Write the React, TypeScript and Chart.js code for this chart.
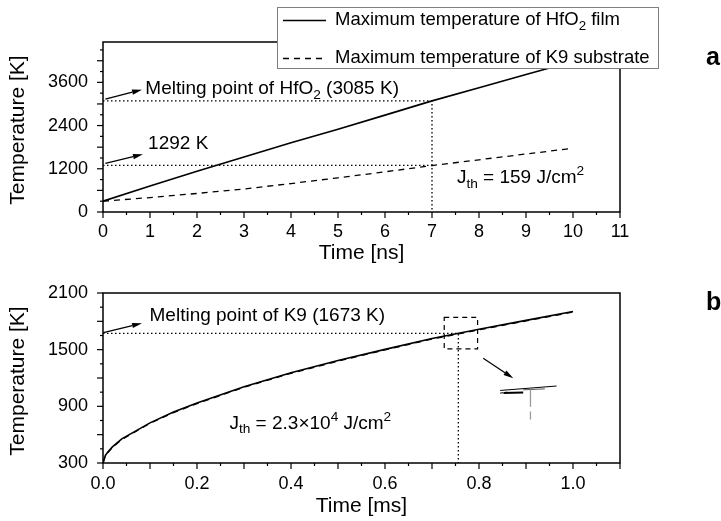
import { useEffect, useRef } from 'react';
import { Chart, registerables } from 'chart.js';

Chart.register(...registerables);

const FONT = "'Liberation Sans', Arial, Helvetica, sans-serif";

// ---------- Panel a (time in ns) ----------
const TIME_NS = [0, 1, 2, 3, 4, 5, 6, 7, 8, 9, 10];
const FILM_TEMP_A = [300, 720, 1130, 1530, 1920, 2300, 2690, 3085, 3450, 3815, 4180];
const SUBSTRATE_TEMP_A = [300, 400, 515, 640, 790, 950, 1115, 1290, 1450, 1610, 1770];
const A_X_TICKS = [0, 1, 2, 3, 4, 5, 6, 7, 8, 9, 10, 11];
const A_Y_TICKS = [0, 1200, 2400, 3600];
const A_X_MIN = 0;
const A_X_MAX = 11;
const A_Y_MIN = 0;
const A_Y_MAX = 4720;
const HFO2_MELT_K = 3085;
const HFO2_MELT_TIME_NS = 7;
const SUBSTRATE_AT_MELT_K = 1292;
const J_TH_A = '159';

// ---------- Panel b (time in ms) ----------
const TIME_MS = [0, 0.005, 0.01, 0.02, 0.04, 0.07, 0.1, 0.15, 0.2, 0.3, 0.4, 0.5, 0.6, 0.7, 0.8, 0.9, 1.0];
const FILM_TEMP_B = [300, 380, 415, 470, 555, 640, 725, 840, 935, 1108, 1256, 1385, 1503, 1618, 1716, 1810, 1904];
const SUBSTRATE_TEMP_B = [300, 374, 409, 464, 549, 634, 719, 834, 929, 1102, 1250, 1379, 1497, 1612, 1710, 1804, 1898];
const B_X_TICKS = [0, 0.2, 0.4, 0.6, 0.8, 1.0];
const B_Y_TICKS = [300, 900, 1500, 2100];
const B_X_MIN = 0;
const B_X_MAX = 1.1;
const B_Y_MIN = 300;
const B_Y_MAX = 2100;
const K9_MELT_K = 1673;
const K9_MELT_TIME_MS = 0.756;

const LEGEND_FILM = 'Maximum temperature of HfO';
const LEGEND_SUBSTRATE = 'Maximum temperature of K9 substrate';

const TICK_SIZE = 18;
const NOTE_SIZE = 19;
const LEGEND_SIZE = 18.5;
const TITLE_SIZE = 21;

type Part = { t: string; s?: 'sub' | 'sup' };

function drawRich(ctx: CanvasRenderingContext2D, parts: Part[], x: number, y: number, size: number) {
  ctx.save();
  ctx.textBaseline = 'middle';
  ctx.textAlign = 'left';
  ctx.fillStyle = '#000';
  let cx = x;
  for (const p of parts) {
    const fs = p.s ? size * 0.72 : size;
    ctx.font = `${fs}px ${FONT}`;
    const dy = p.s === 'sub' ? size * 0.32 : p.s === 'sup' ? -size * 0.35 : 0;
    ctx.fillText(p.t, cx, y + dy);
    cx += ctx.measureText(p.t).width;
  }
  ctx.restore();
}

function line(ctx: CanvasRenderingContext2D, x1: number, y1: number, x2: number, y2: number) {
  ctx.beginPath();
  ctx.moveTo(x1, y1);
  ctx.lineTo(x2, y2);
  ctx.stroke();
}

function arrow(ctx: CanvasRenderingContext2D, x1: number, y1: number, x2: number, y2: number) {
  const head = 10;
  const w = 2.6;
  const ang = Math.atan2(y2 - y1, x2 - x1);
  const bx = x2 - head * Math.cos(ang);
  const by = y2 - head * Math.sin(ang);
  ctx.save();
  ctx.strokeStyle = '#000';
  ctx.fillStyle = '#000';
  ctx.lineWidth = 1.3;
  line(ctx, x1, y1, bx, by);
  ctx.beginPath();
  ctx.moveTo(x2, y2);
  ctx.lineTo(bx + w * Math.sin(ang), by - w * Math.cos(ang));
  ctx.lineTo(bx - w * Math.sin(ang), by + w * Math.cos(ang));
  ctx.closePath();
  ctx.fill();
  ctx.restore();
}

function drawFrameAndTicks(ctx: CanvasRenderingContext2D, a: any, xs: any, ys: any, xStep: number, yStep: number) {
  ctx.save();
  ctx.strokeStyle = '#000';
  ctx.lineWidth = 1.2;
  const nx = Math.floor((xs.max - xs.min) / xStep + 1e-6);
  for (let i = 0; i <= nx; i++) {
    const px = xs.getPixelForValue(xs.min + i * xStep);
    line(ctx, px, a.bottom, px, a.bottom + (i % 2 === 0 ? 6 : 3));
  }
  const ny = Math.floor((ys.max - ys.min) / yStep + 1e-6);
  for (let i = 0; i <= ny; i++) {
    const py = ys.getPixelForValue(ys.min + i * yStep);
    line(ctx, a.left, py, a.left - (i % 2 === 0 ? 6 : 3), py);
  }
  ctx.lineWidth = 1.5;
  ctx.strokeRect(a.left, a.top, a.right - a.left, a.bottom - a.top);
  ctx.restore();
}

function drawTitles(ctx: CanvasRenderingContext2D, a: any, xTitle: string, xTitleY: number, yTitle: string) {
  ctx.save();
  ctx.fillStyle = '#000';
  ctx.font = `${TITLE_SIZE}px ${FONT}`;
  ctx.textAlign = 'center';
  ctx.textBaseline = 'middle';
  ctx.fillText(xTitle, (a.left + a.right) / 2, xTitleY);
  ctx.translate(18.5, (a.top + a.bottom) / 2 + 3);
  ctx.rotate(-Math.PI / 2);
  ctx.fillText(yTitle, 0, 0);
  ctx.restore();
}

function panelLabel(ctx: CanvasRenderingContext2D, text: string, x: number, y: number) {
  ctx.save();
  ctx.fillStyle = '#000';
  ctx.font = `bold 25px ${FONT}`;
  ctx.textAlign = 'left';
  ctx.textBaseline = 'alphabetic';
  ctx.fillText(text, x, y);
  ctx.restore();
}

function lineDataset(xs: number[], ys: number[], extra: any = {}) {
  return {
    data: xs.map((x, i) => ({ x, y: ys[i] })),
    borderColor: '#000',
    borderWidth: 1.5,
    pointRadius: 0,
    fill: false,
    tension: 0,
    ...extra,
  };
}

function options(
  xMin: number, xMax: number, yMin: number, yMax: number,
  xTicks: number[], yTicks: number[], xFmt: (v: number) => string,
  padTop: number, xHeight: number, xPad: number,
) {
  return {
    animation: false,
    responsive: false,
    maintainAspectRatio: false,
    layout: { padding: { top: padTop, right: 101, left: 0, bottom: 0 } },
    plugins: { legend: { display: false }, tooltip: { enabled: false } },
    scales: {
      x: {
        type: 'linear',
        min: xMin,
        max: xMax,
        grid: { display: false, drawTicks: false },
        border: { display: false },
        afterBuildTicks: (s: any) => { s.ticks = xTicks.map((v) => ({ value: v })); },
        afterFit: (s: any) => { s.height = xHeight; },
        ticks: {
          font: { family: FONT, size: TICK_SIZE },
          color: '#000',
          padding: xPad,
          maxRotation: 0,
          autoSkip: false,
          callback: (v: any) => xFmt(Number(v)),
        },
      },
      y: {
        type: 'linear',
        min: yMin,
        max: yMax,
        grid: { display: false, drawTicks: false },
        border: { display: false },
        afterBuildTicks: (s: any) => { s.ticks = yTicks.map((v) => ({ value: v })); },
        afterFit: (s: any) => { s.width = 103; },
        ticks: {
          font: { family: FONT, size: TICK_SIZE },
          color: '#000',
          padding: 15,
          autoSkip: false,
          callback: (v: any) => String(v),
        },
      },
    },
  };
}

export default function App() {
  const refA = useRef<HTMLCanvasElement>(null);
  const refB = useRef<HTMLCanvasElement>(null);

  useEffect(() => {
    const dotted = [1.5, 2.5];

    const decorA = {
      id: 'decorA',
      afterDatasetsDraw(chart: any) {
        const { ctx, chartArea: a } = chart;
        const x = chart.scales.x;
        const y = chart.scales.y;
        drawFrameAndTicks(ctx, a, x, y, 0.5, 300);
        arrow(ctx, x.getPixelForValue(0.05), y.getPixelForValue(3137), x.getPixelForValue(0.83), y.getPixelForValue(3397));
        arrow(ctx, x.getPixelForValue(0.05), y.getPixelForValue(1351), x.getPixelForValue(0.85), y.getPixelForValue(1602));
        drawRich(ctx, [{ t: 'Melting point of HfO' }, { t: '2', s: 'sub' }, { t: ` (${HFO2_MELT_K} K)` }],
          x.getPixelForValue(0.9), y.getPixelForValue(3424), NOTE_SIZE);
        drawRich(ctx, [{ t: `${SUBSTRATE_AT_MELT_K} K` }], x.getPixelForValue(0.96), y.getPixelForValue(1890), NOTE_SIZE);
        drawRich(ctx, [{ t: 'J' }, { t: 'th', s: 'sub' }, { t: ` = ${J_TH_A} J/cm` }, { t: '2', s: 'sup' }],
          x.getPixelForValue(7.53), y.getPixelForValue(940), NOTE_SIZE);
        drawTitles(ctx, a, 'Time [ns]', 253, 'Temperature [K]');

        // legend box
        ctx.save();
        ctx.fillStyle = '#fff';
        ctx.fillRect(277, 7, 381, 61);
        ctx.strokeStyle = '#808080';
        ctx.lineWidth = 1;
        ctx.strokeRect(277.5, 7.5, 381, 61);
        ctx.strokeStyle = '#000';
        ctx.lineWidth = 1.4;
        line(ctx, 283, 20.5, 326, 20.5);
        ctx.setLineDash([6, 5]);
        line(ctx, 283, 58.5, 326, 58.5);
        ctx.restore();
        drawRich(ctx, [{ t: LEGEND_FILM }, { t: '2', s: 'sub' }, { t: ' film' }], 335, 20, LEGEND_SIZE);
        drawRich(ctx, [{ t: LEGEND_SUBSTRATE }], 335, 58, LEGEND_SIZE);
        panelLabel(ctx, 'a', 706, 65);
      },
    };

    const decorB = {
      id: 'decorB',
      afterDatasetsDraw(chart: any) {
        const { ctx, chartArea: a } = chart;
        const x = chart.scales.x;
        const y = chart.scales.y;
        drawFrameAndTicks(ctx, a, x, y, 0.05, 150);
        arrow(ctx, x.getPixelForValue(0.001), y.getPixelForValue(1681), x.getPixelForValue(0.083), y.getPixelForValue(1781));
        drawRich(ctx, [{ t: `Melting point of K9 (${K9_MELT_K} K)` }], x.getPixelForValue(0.099), y.getPixelForValue(1864), NOTE_SIZE);
        drawRich(ctx, [{ t: 'J' }, { t: 'th', s: 'sub' }, { t: ' = 2.3\u00d710' }, { t: '4', s: 'sup' }, { t: ' J/cm' }, { t: '2', s: 'sup' }],
          x.getPixelForValue(0.269), y.getPixelForValue(719), NOTE_SIZE);

        // zoom box + arrow + inset
        ctx.save();
        ctx.strokeStyle = '#000';
        ctx.lineWidth = 1.2;
        ctx.setLineDash([5, 4]);
        const rx1 = x.getPixelForValue(0.726);
        const rx2 = x.getPixelForValue(0.797);
        const ry1 = y.getPixelForValue(1841);
        const ry2 = y.getPixelForValue(1508);
        ctx.strokeRect(rx1, ry1, rx2 - rx1, ry2 - ry1);
        ctx.restore();
        arrow(ctx, x.getPixelForValue(0.809), y.getPixelForValue(1409), x.getPixelForValue(0.873), y.getPixelForValue(1197));

        ctx.save();
        ctx.strokeStyle = '#000';
        ctx.lineWidth = 1;
        line(ctx, x.getPixelForValue(0.845), y.getPixelForValue(1068), x.getPixelForValue(0.965), y.getPixelForValue(1115));
        ctx.lineWidth = 2;
        line(ctx, x.getPixelForValue(0.852), y.getPixelForValue(1040), x.getPixelForValue(0.894), y.getPixelForValue(1046));
        ctx.lineWidth = 1;
        ctx.setLineDash([3, 2]);
        line(ctx, x.getPixelForValue(0.845), y.getPixelForValue(1040), x.getPixelForValue(0.86), y.getPixelForValue(1050));
        ctx.setLineDash([]);
        ctx.strokeStyle = '#555';
        line(ctx, x.getPixelForValue(0.894), y.getPixelForValue(1075), x.getPixelForValue(0.94), y.getPixelForValue(1085));
        ctx.strokeStyle = '#9a9a9a';
        ctx.lineWidth = 1.3;
        line(ctx, x.getPixelForValue(0.9095), y.getPixelForValue(1080), x.getPixelForValue(0.9095), y.getPixelForValue(895));
        line(ctx, x.getPixelForValue(0.9095), y.getPixelForValue(845), x.getPixelForValue(0.9095), y.getPixelForValue(760));
        ctx.restore();

        drawTitles(ctx, a, 'Time [ms]', 246, 'Temperature [K]');
        panelLabel(ctx, 'b', 706, 50);
      },
    };

    const configA: any = {
      type: 'line',
      data: {
        datasets: [
          lineDataset(TIME_NS, FILM_TEMP_A, { borderWidth: 1.6 }),
          lineDataset(TIME_NS, SUBSTRATE_TEMP_A, { borderWidth: 1.3, borderDash: [6, 5] }),
          lineDataset([0, HFO2_MELT_TIME_NS, HFO2_MELT_TIME_NS], [HFO2_MELT_K, HFO2_MELT_K, A_Y_MIN], { borderWidth: 1.3, borderDash: dotted }),
          lineDataset([0, HFO2_MELT_TIME_NS], [SUBSTRATE_AT_MELT_K, SUBSTRATE_AT_MELT_K], { borderWidth: 1.3, borderDash: dotted }),
        ],
      },
      options: options(A_X_MIN, A_X_MAX, A_Y_MIN, A_Y_MAX, A_X_TICKS, A_Y_TICKS, (v) => String(v), 42, 63, 9),
      plugins: [decorA],
    };

    const configB: any = {
      type: 'line',
      data: {
        datasets: [
          lineDataset(TIME_MS, FILM_TEMP_B, { borderWidth: 1.6 }),
          lineDataset(TIME_MS, SUBSTRATE_TEMP_B, { borderWidth: 1.3, borderDash: [6, 5] }),
          lineDataset([0, K9_MELT_TIME_MS, K9_MELT_TIME_MS], [K9_MELT_K, K9_MELT_K, B_Y_MIN], { borderWidth: 1.3, borderDash: dotted }),
        ],
      },
      options: options(B_X_MIN, B_X_MAX, B_Y_MIN, B_Y_MAX, B_X_TICKS, B_Y_TICKS, (v) => v.toFixed(1), 33, 58, 10),
      plugins: [decorB],
    };

    const ca = new Chart(refA.current as HTMLCanvasElement, configA);
    const cb = new Chart(refB.current as HTMLCanvasElement, configB);
    return () => {
      ca.destroy();
      cb.destroy();
    };
  }, []);

  return (
    <div style={{ position: 'fixed', left: 0, top: 0, width: 721, height: 521, background: '#fff' }}>
      <canvas ref={refA} width={721} height={275} style={{ position: 'absolute', left: 0, top: 0, width: 721, height: 275 }} />
      <canvas ref={refB} width={721} height={261} style={{ position: 'absolute', left: 0, top: 260, width: 721, height: 261 }} />
    </div>
  );
}
